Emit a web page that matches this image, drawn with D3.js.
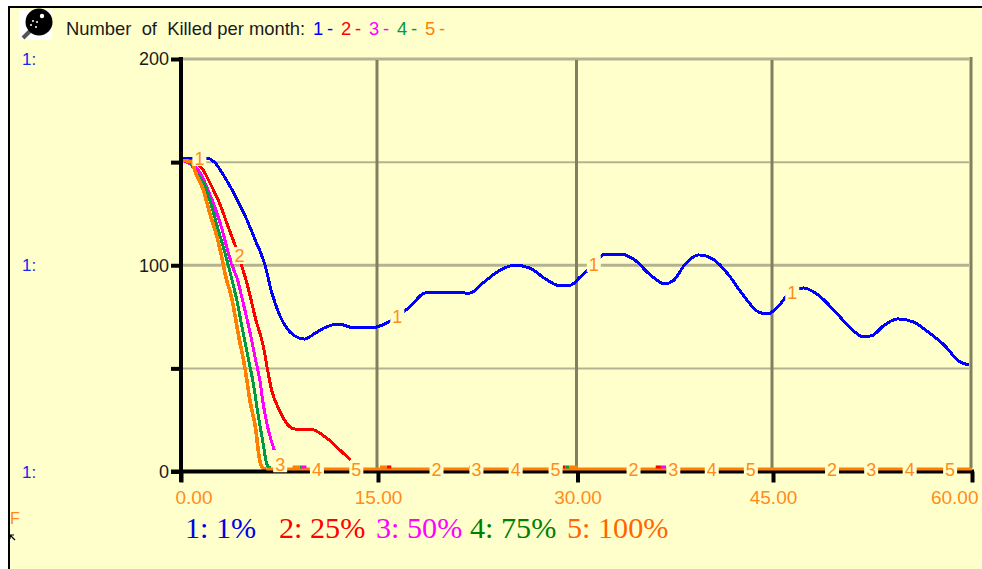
<!DOCTYPE html>
<html><head><meta charset="utf-8">
<script src="https://cdn.jsdelivr.net/npm/d3@7/dist/d3.min.js"></script>
<style>html,body{margin:0;padding:0;background:#fff}svg{display:block}text{font-family:"Liberation Sans",Arial,sans-serif}</style>
</head><body><svg id="c" width="982" height="569"></svg>
<script>
const xTicks=[0,15,30,45,60];
const yTicks=[0,50,100,150,200];
const yTickLabels={0:"0",100:"100",200:"200"};
const colors=["#0000ff","#ff0000","#ff00ff","#009944","#ff8000"];
const legendNames=["1: 1%","2: 25%","3: 50%","4: 75%","5: 100%"];
const legendColors=["#0000e6","#ff0000","#ff00ff","#008000","#ff6600"];
const m1=[0,1.9,2.6,3.3,4.1,4.85,5.6,6.4,6.9,7.5,8.3,9,9.4,10.2,10.9,12,13.2,14.4,15.5,16.6,17.4,18.5,19.6,21.9,23,24.2,25.3,26.4,27.6,28.7,29.5,30.2,31,32.1,33.3,34.4,35.5,36.7,37.4,38.2,39.3,40.5,41.6,42.7,43.9,44.6,45.4,46.5,47.3,48.4,49.9,51,51.8,52.5,53.3,54.4,55.6,56.7,57.9,59,59.8];
const v1=[152,152,149.6,143,134,124.4,113,100,87,76,67.6,64.7,64.2,67,69.6,71.5,69.6,69.6,71.5,76,79.8,86.5,87,86.5,92,97.7,100,98.7,93.3,90,90.4,94.3,98.7,105.4,105.4,102.5,95.8,91,92.8,100,105,102.5,95.3,85.6,77.3,76.4,80.2,88,89,85.6,76,68.6,65.2,66,70.5,74,72.5,67.6,61.3,53.6,51.6];
const m2=[0,.7,1.7,2.2,3,3.6,4.1,4.65,4.9,5.25,5.7,6.25,6.6,6.9,7.55,8.15,8.7,9.8,11.1,12.1,12.9];
const v2=[151,151,146,140,129,118.5,110,99,94,85.5,73.5,61.3,49,39.5,29,22.5,20.6,20.6,16.2,10.4,5.6];
const m3=[0,.85,1.45,2.05,2.6,3.1,3.6,3.95,4.35,4.5,4.9,5.25,5.65,6,6.25,6.6,7.1];
const v3=[151,148.6,145,136.5,127.8,118,106,99,92,88,77.3,67.6,55,44.4,33.2,21.6,10.4];
const m4=[0,.3,1.45,1.85,2.35,2.8,3.35,3.75,4.25,4.65,5.1,5.5,5.85,6.25,6.55,6.8];
const v4=[151,151,142.3,138,128.2,118,106,96.2,83,70,55.5,42.9,28.4,13.8,3.2,1.7];
const m5=[0,.85,1.05,1.7,2.2,2.75,3.1,3.35,3.9,4.35,4.9,5.25,5.7,5.95,6.15,6.5];
const v5=[151,150,146,136.5,125,113.5,104,96,83,67,49,34.4,20,7,2.2,1.2];
// the run along zero and the small raised pieces on it: [first month, last month]
const tail5=[[6.5,60]];
const bits2=[[15.65,16],[28.9,29.1],[36,36.4]];
const bits3=[[9.2,9.55],[36.4,36.8]];
const bits4=[[9.05,9.2],[21.85,22.1],[29.1,29.4]];
const bits5=[[8.5,9.05],[15.15,15.65],[29.4,30]];
// series labels on the curves: [text, month, value]
const curveLabels=[["1",1.4,152],["1",16.45,75],["1",31.25,100.5],["1",46.45,87],["2",4.45,104.5],["3",7.55,3.5],["4",10.35,0.8],["5",13.35,0.8],["2",19.4,0.8],["3",22.4,0.8],["4",25.35,0.8],["5",28.35,0.8],["2",34.3,0.8],["3",37.35,0.8],["4",40.3,0.8],["5",43.3,0.8],["2",49.45,0.8],["3",52.4,0.8],["4",55.3,0.8],["5",58.35,0.8]];
const titleHead="Number  of  Killed per month:";
const titleParts=[["1","#0000ff"],["-","#0000ff"],["2","#ff0000"],["-","#ff0000"],["3","#ff00ff"],["-","#ff00ff"],["4","#009944"],["-","#009944"],["5","#ff8000"],["-","#ff8000"]];

const svg=d3.select("#c");
const x=d3.scaleLinear().domain(xTicks).range([181,378,577.5,773,972]);
const y=d3.scaleLinear().domain([0,200]).range([471.5,59]);
svg.append("rect").attr("x",9).attr("y",7).attr("width",973).attr("height",562).attr("fill","#ffffcc");
svg.append("path").attr("d","M9,569V7H982").attr("fill","none").attr("stroke","#000").attr("stroke-width",2);

// grid
const g=svg.append("g");
g.selectAll(".h").data(yTicks.filter(d=>d>0)).join("line").attr("x1",183).attr("x2",969)
 .attr("y1",y).attr("y2",y).attr("stroke","#b4b391").attr("stroke-width",d=>d==200?3:(d==100?3:2));
g.selectAll(".v").data(xTicks.slice(1)).join("line").attr("x1",d=>x(d)-1).attr("x2",d=>x(d)-1)
 .attr("y1",d=>d==60?57:60).attr("y2",468).attr("stroke","#808060").attr("stroke-width",3);

// series
const line=d3.line().x(d=>x(d[0])).y(d=>y(d[1])).curve(d3.curveMonotoneX);
const plot=svg.append("g").attr("fill","none");
const allM=[m1,m2,m3,m4,m5],allV=[v1,v2,v3,v4,v5];
allM.forEach((m,i)=>plot.append("path").attr("d",line(m.map((t,j)=>[t,allV[i][j]])))
  .attr("stroke",colors[i]).attr("stroke-width",i==4?3.6:3).attr("shape-rendering","crispEdges"));

// axes
const ax=svg.append("g").attr("transform","translate(0,471.5)")
 .call(d3.axisBottom(x).tickValues(xTicks).tickSize(11).tickPadding(8).tickFormat(d3.format(".2f")));
ax.select(".domain").remove();
ax.selectAll("line").attr("stroke","#000").attr("stroke-width",4);
ax.selectAll("text").attr("fill","#ff8c1a").attr("font-size",19).attr("font-family","Liberation Sans");
ax.selectAll("text").filter(d=>d==0).attr("text-anchor","start").attr("x",-6);
ax.selectAll("text").filter(d=>d==60).attr("text-anchor","end").attr("x",6);
ax.selectAll("text").attr("dy","0.71em");

const ay=svg.append("g").attr("transform","translate(181,0)")
 .call(d3.axisLeft(y).tickValues(yTicks).tickSize(10).tickPadding(2).tickFormat(d=>yTickLabels[d]||""));
ay.select(".domain").remove();
ay.selectAll("line").attr("stroke","#000").attr("stroke-width",4);
ay.selectAll("text").attr("fill","#1a1a1a").attr("font-size",18).attr("font-family","Liberation Sans");
ay.append("line").attr("y1",57).attr("y2",482).attr("stroke","#000").attr("stroke-width",4);
svg.append("line").attr("x1",171).attr("x2",974).attr("y1",y(0)).attr("y2",y(0)).attr("stroke","#000").attr("stroke-width",4);

// flat stretches on top of the axis
const flat=svg.append("g");
function seg(arr,c,w,v){flat.selectAll(null).data(arr).join("line").attr("x1",d=>x(d[0])).attr("x2",d=>x(d[1]))
 .attr("y1",y(v)).attr("y2",y(v)).attr("stroke",c).attr("stroke-width",w);}
seg(tail5,colors[4],3,1.2);
seg(bits2,colors[1],3,2.2);seg(bits3,colors[2],3,2.2);seg(bits4,colors[3],3,2.2);seg(bits5,colors[4],3,2.2);

// curve labels with background patch
const cl=svg.append("g");
curveLabels.forEach(d=>{
 const px=x(d[1]),py=y(d[2]);
 cl.append("rect").attr("x",px-7).attr("y",py-9).attr("width",14).attr("height",17).attr("fill","#ffffcc");
 cl.append("text").attr("x",px).attr("y",py+6.5).attr("text-anchor","middle").attr("font-size",18).attr("fill","#ff8c1a").text(d[0]);
});

// title
svg.append("text").attr("x",66).attr("y",35).attr("font-size",18.4).attr("fill","#1a1a1a").style("white-space","pre").text(titleHead);
const t=svg.append("text").attr("x",313).attr("y",35).attr("font-size",18.4);
titleParts.forEach((p,i)=>t.append("tspan").attr("x",313+i*14).attr("fill",p[1]).text(p[0]));

// left "1:" labels
[200,100,0].forEach(v=>svg.append("text").attr("x",22).attr("y",y(v)+6).attr("font-size",17).attr("fill","#2222ee").text("1:"));

// bottom legend
const lx=[185,279,376,470,567];
legendNames.forEach((n,i)=>svg.append("text").attr("x",lx[i]).attr("y",538).attr("font-size",30.2)
 .attr("fill",legendColors[i]).style("font-family","'Liberation Serif',serif").text(n));

// icon
const ic=svg.append("g");
ic.append("rect").attr("x",19).attr("y",9).attr("width",33).attr("height",31).attr("fill","#fff");
ic.append("line").attr("x1",23).attr("y1",38).attr("x2",34).attr("y2",27).attr("stroke","#555").attr("stroke-width",4);
ic.append("circle").attr("cx",39).attr("cy",22).attr("r",13.5).attr("fill","#000");
[[42,16,2.2],[33,21,1],[37,22,1],[31,25,1],[36,27,1]].forEach(c=>ic.append("circle").attr("cx",c[0]).attr("cy",c[1]).attr("r",c[2]).attr("fill","#fff"));

// clipped marker and pointer at lower left
svg.append("text").attr("x",10).attr("y",524).attr("font-size",16).attr("fill","#ff8c1a").text("F");
svg.append("rect").attr("x",0).attr("y",505).attr("width",10).attr("height",25).attr("fill","#fff");
svg.append("rect").attr("x",8).attr("y",505).attr("width",2).attr("height",25).attr("fill","#000");
svg.append("path").attr("d","M10,535l5,5M10,535h4M10,535v4").attr("stroke","#000").attr("fill","none").attr("stroke-width",1.2);
</script></body></html>
